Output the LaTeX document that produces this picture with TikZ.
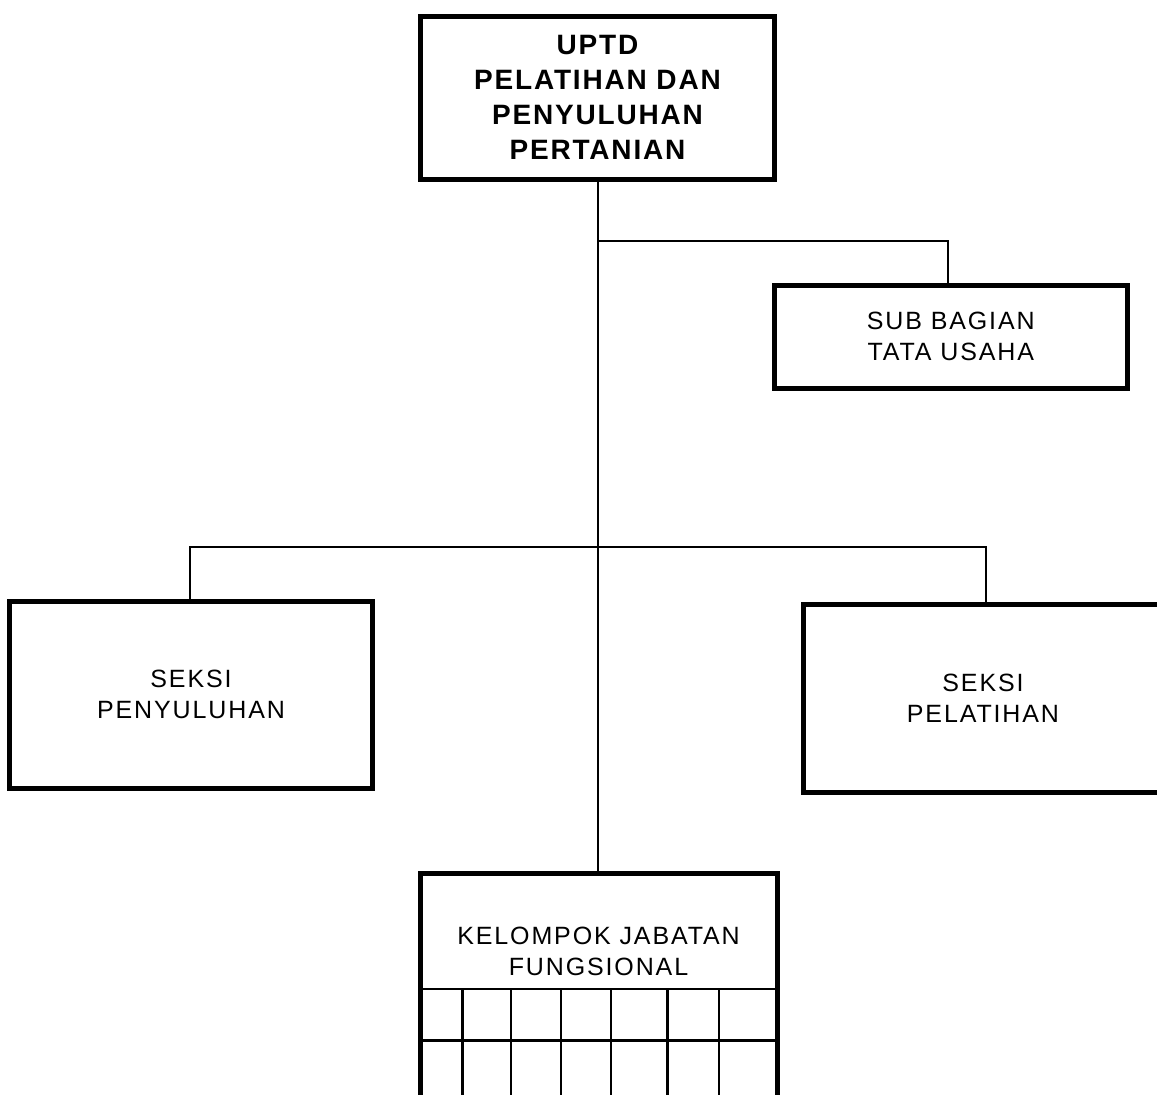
\documentclass[tikz,border=0pt]{standalone}
\usepackage{fontspec}
\newfontfamily\regfont[LetterSpace=7.5]{Liberation Sans}
\newfontfamily\boldfont[LetterSpace=6.5]{Liberation Sans Bold}
\begin{document}
\begin{tikzpicture}[x=1pt,y=-1pt,
  box/.style={draw, line width=5pt, minimum width=#1, inner sep=0pt, align=center},
  reglabel/.style={font=\regfont\fontsize{25}{31}\selectfont},
  boldlabel/.style={font=\boldfont\fontsize{28}{35}\selectfont},
  conn/.style={line width=2.2pt},
  gridline/.style={line width=2.5pt}]
\useasboundingbox (0,0) rectangle (1157,1095);
\clip (0,0) rectangle (1157,1095);
% boxes
\node[box=353.5pt, minimum height=163pt, boldlabel] (top) at (597.5,97.5)
  {UPTD\\PELATIHAN DAN\\PENYULUHAN\\PERTANIAN};
\node[box=352.5pt, minimum height=102.5pt, reglabel] (sub) at (950.75,336.75)
  {SUB BAGIAN\\TATA USAHA};
\node[box=363pt, minimum height=186.5pt, reglabel] (left) at (191,694.75)
  {SEKSI\\PENYULUHAN};
\node[box=359pt, minimum height=188.5pt, reglabel] (right) at (983,698.25)
  {SEKSI\\PELATIHAN};
\node[box=357.5pt, minimum height=240pt] (kel) at (598.75,993.5) {};
\node[reglabel, align=center, inner sep=0pt] (keltext) at (598.5,951)
  {KELOMPOK JABATAN\\FUNGSIONAL};
% grid inside bottom box
\draw[gridline] (420,989) -- (777.5,989);
\draw[gridline] (420,1040.5) -- (777.5,1040.5);
\foreach \gx in {462.7,511,561,611,667.3,719}
  \draw[gridline] (\gx,989) -- (\gx,1110);
% connectors
\coordinate (j1) at (598,241);
\coordinate (j2) at (598,547);
\draw[conn] (598,179) -- (598,873.5);
\draw[conn] (j1) -- (948,241) -- (948,285.5);
\draw[conn] (190,601.5) -- (190,547) -- (986,547) -- (986,604);
\end{tikzpicture}
\end{document}
